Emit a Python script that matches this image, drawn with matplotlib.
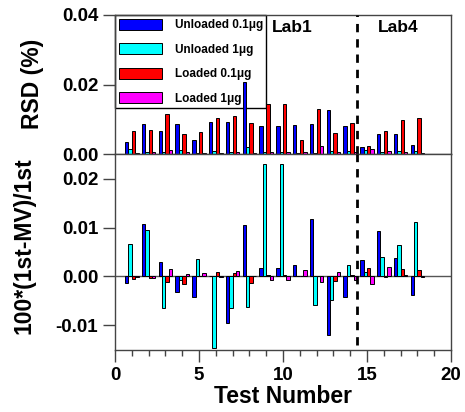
import numpy as np
import matplotlib.pyplot as plt
from matplotlib.ticker import MultipleLocator

plt.rcParams['font.family'] = ['Liberation Sans', 'DejaVu Sans']
plt.rcParams['font.weight'] = 'bold'

tests = np.arange(1, 19)
series = ['Unloaded 0.1\u03bcg', 'Unloaded 1\u03bcg', 'Loaded 0.1\u03bcg', 'Loaded 1\u03bcg']
colors = ['#0000FF', '#00FFFF', '#FF0000', '#FF00FF']

# RSD (%) per test
rsd_u01 = [0.0035, 0.0086, 0.0065, 0.0086, 0.0039, 0.0091, 0.0092, 0.0207, 0.0082,
           0.0082, 0.0083, 0.0085, 0.0128, 0.0081, 0.0020, 0.0058, 0.0059, 0.0026]
rsd_u1 = [0.0013, 0.0005, 0.0007, 0.0012, 0.0002, 0.0010, 0.0007, 0.0021, 0.0005,
          0.0005, 0.0002, 0.0002, 0.0010, 0.0010, 0.0012, 0.0005, 0.0008, 0.0010]
rsd_l01 = [0.0065, 0.0069, 0.0115, 0.0057, 0.0064, 0.0103, 0.0110, 0.0090, 0.0143,
           0.0143, 0.0040, 0.0130, 0.0060, 0.0088, 0.0023, 0.0066, 0.0099, 0.0104]
rsd_l1 = [0.0002, 0.0005, 0.0011, 0.0005, 0.0004, 0.0002, 0.0007, 0.0004, 0.0005,
          0.0005, 0.0006, 0.0024, 0.0005, 0.0007, 0.0014, 0.0010, 0.0006, 0.0002]

# 100*(1st-MV)/1st per test
dev_u01 = [-0.0014, 0.0107, 0.0029, -0.0031, -0.0042, 0.0, -0.0095, 0.0106, 0.0018,
           0.0018, 0.0024, 0.0118, -0.0120, -0.0042, 0.0034, 0.0093, 0.0038, -0.0038]
dev_u1 = [0.0066, 0.0095, -0.0065, -0.0007, 0.0036, -0.0146, -0.0065, -0.0062, 0.0229,
          0.0229, 0.0002, -0.0058, -0.0048, 0.0023, 0.0009, 0.0040, 0.0065, 0.0112]
dev_l01 = [-0.0005, -0.0004, -0.0011, -0.0016, 0.0001, 0.0009, 0.0007, -0.0014, 0.0004,
           0.0004, 0.0001, 0.0, -0.0009, 0.0003, 0.0018, -0.0001, 0.0015, 0.0013]
dev_l1 = [-0.0002, -0.0004, 0.0016, 0.0005, 0.0008, -0.0002, 0.0012, 0.0002, -0.0007,
          -0.0007, 0.0014, -0.0011, 0.0010, -0.0007, -0.0016, 0.0019, 0.0004, -0.0002]

rsd = [rsd_u01, rsd_u1, rsd_l01, rsd_l1]
dev = [dev_u01, dev_u1, dev_l01, dev_l1]
offsets = [-0.3, -0.1, 0.1, 0.3]
width = 0.2
lab_split = 14.4

fig = plt.figure(figsize=(4.65, 4.12), dpi=100)
ax1 = fig.add_axes([0.2473, 0.6262, 0.7226, 0.3374])
ax2 = fig.add_axes([0.2473, 0.1505, 0.7226, 0.4757])

for vals, c, off, lab in zip(rsd, colors, offsets, series):
    ax1.bar(tests + off, vals, width, color=c, edgecolor='black', linewidth=0.7,
            label=lab, zorder=2)
for vals, c, off in zip(dev, colors, offsets):
    ax2.bar(tests + off, vals, width, color=c, edgecolor='black', linewidth=0.7, zorder=2)

# top panel
ax1.set_xlim(0, 20)
ax1.set_ylim(0, 0.04)
ax1.set_yticks([0, 0.02, 0.04])
ax1.set_yticklabels(['0.00', '0.02', '0.04'])
ax1.set_xticks([])
ax1.tick_params(axis='y', direction='out', length=8.5, width=1, labelsize=13.5, color='#444444')
for s in ax1.spines.values():
    s.set_linewidth(1)
    s.set_color('#444444')
ax1.axvline(lab_split, color='black', linestyle=(0, (3, 2.5)), linewidth=2, zorder=3)
ax1.text(9.33, 0.0365, 'Lab1', fontsize=12.5, fontweight='bold', va='center', ha='left')
ax1.text(15.67, 0.0365, 'Lab4', fontsize=12.5, fontweight='bold', va='center', ha='left')
leg = ax1.legend(loc='upper left', bbox_to_anchor=(0, 1), borderaxespad=0, fontsize=8.5,
                 handlelength=3.65, handleheight=1.1, labelspacing=1.0, handletextpad=1.1,
                 borderpad=0.3, fancybox=False, framealpha=1)
leg.get_frame().set_edgecolor('black')
leg.get_frame().set_linewidth(1)
leg.set_zorder(1)  # tall bar of test 8 is drawn over the legend box
for t in leg.get_texts():
    t.set_fontweight('bold')
fig.text(0.069, 0.796, 'RSD (%)', rotation=90, fontsize=16.5, fontweight='bold',
         ha='center', va='center')

# bottom panel
ax2.set_xlim(0, 20)
ax2.set_ylim(-0.015, 0.025)
ax2.set_yticks([-0.01, 0, 0.01, 0.02])
ax2.set_yticklabels(['-0.01', '0.00', '0.01', '0.02'])
ax2.xaxis.set_major_locator(MultipleLocator(5))
ax2.xaxis.set_minor_locator(MultipleLocator(1))
ax2.tick_params(axis='both', which='major', direction='out', length=8.5, width=1,
                labelsize=13.5, color='#444444')
ax2.tick_params(axis='x', which='minor', direction='out', length=4.5, width=1, color='#444444')
for s in ax2.spines.values():
    s.set_linewidth(1)
    s.set_color('#444444')
ax2.axhline(0, color='#555555', linewidth=1, zorder=1)
ax2.axvline(lab_split, ymin=0.025, ymax=1, color='black', linestyle=(0, (3, 2.5)),
            linewidth=2, zorder=3)
ax2.set_xlabel('Test Number', fontsize=16.5, fontweight='bold', labelpad=1)
fig.text(0.052, 0.405, '100*(1st-MV)/1st', rotation=90, fontsize=16.5, fontweight='bold',
         ha='center', va='center')

fig.savefig('out.png', dpi=100)
